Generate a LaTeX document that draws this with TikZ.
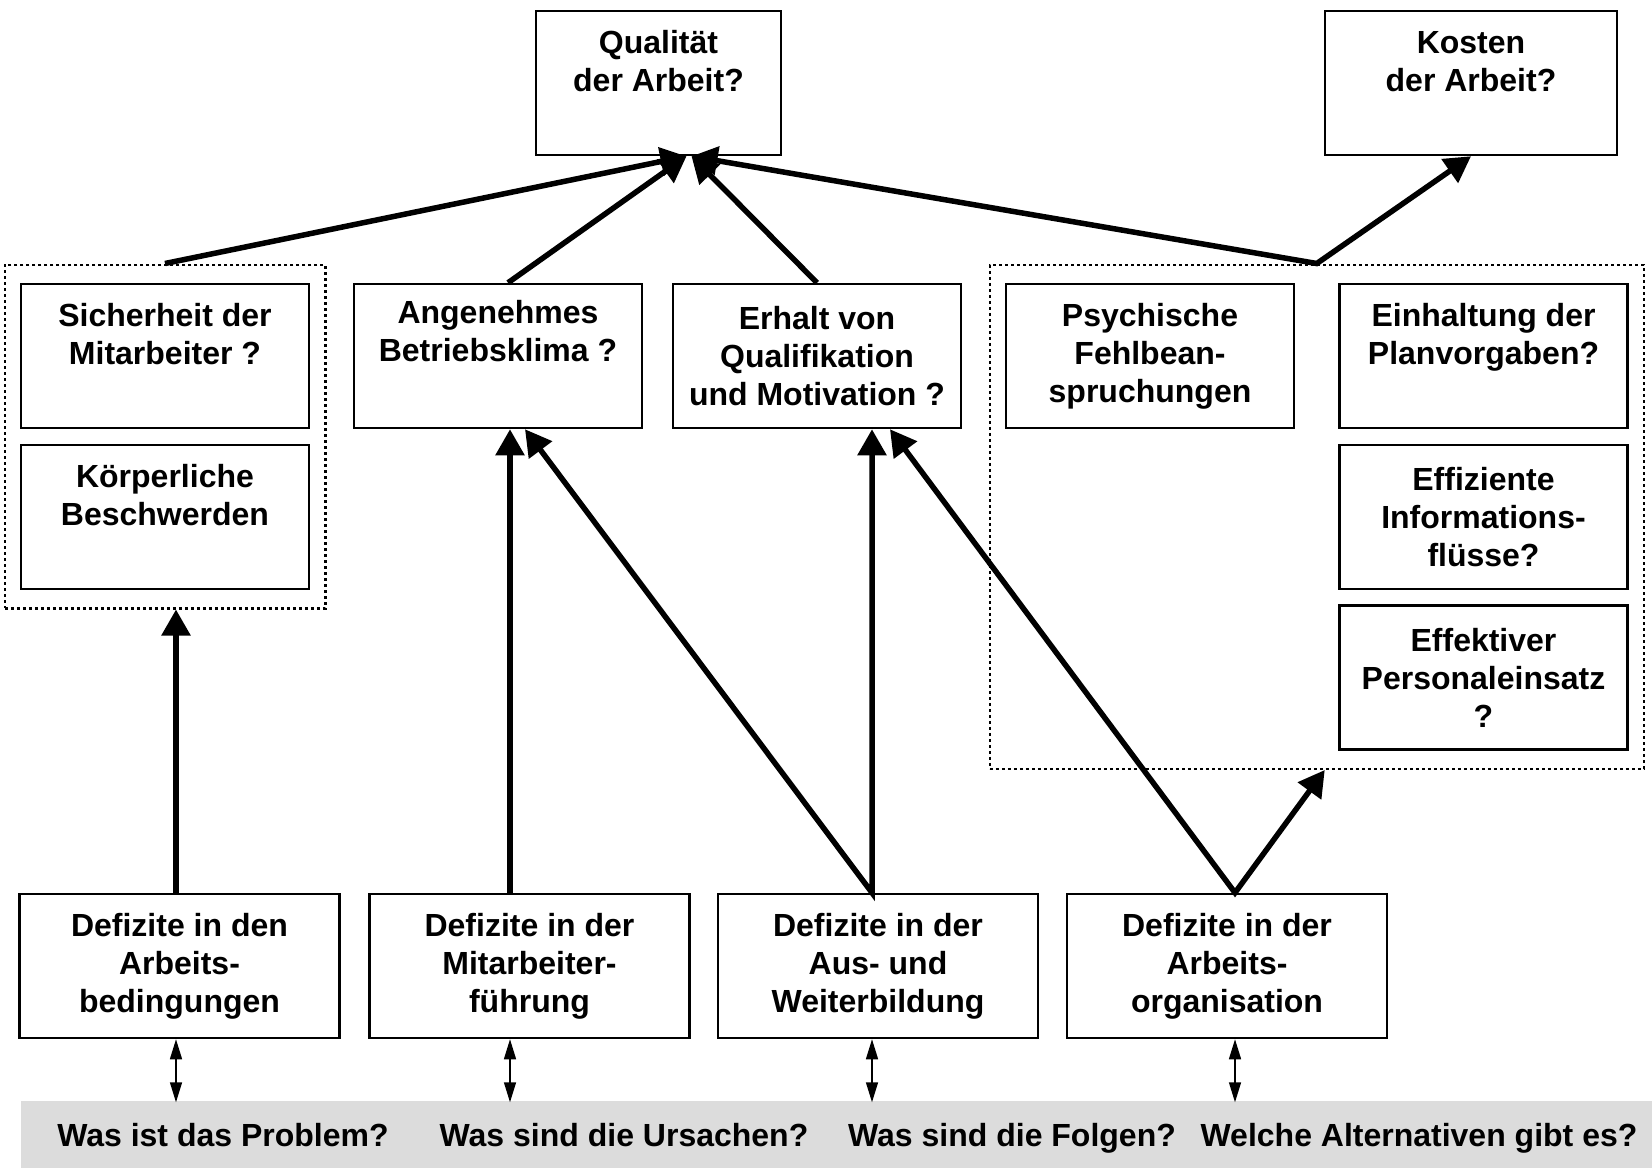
\documentclass[tikz,border=0pt]{standalone}
\usepackage{fontspec}
\setmainfont{Liberation Sans}
\usetikzlibrary{arrows.meta,calc,fit}
\definecolor{barGray}{HTML}{DCDCDC}

\tikzset{
  bigtip/.tip={Triangle[length=26pt,width=28pt]},
  smalltip/.tip={Triangle[length=20pt,width=12pt]}
}

\begin{document}
\begin{tikzpicture}[x=1pt,y=-1pt,font=\fontsize{32}{38}\selectfont\bfseries,
  box/.style={draw,line width=2.5pt,align=center,minimum height=144pt,inner sep=0pt},
  group/.style={draw,line width=2.5pt,dash pattern=on 3pt off 3pt,inner xsep=15pt,inner ysep=18pt},
  link/.style={line width=5.5pt,-bigtip},
  fork/.style={line width=5.5pt,bigtip-bigtip},
  ask/.style={line width=1.5pt,smalltip-smalltip}]
  \useasboundingbox (0,0) rectangle (1652,1168);

  \node[box,minimum width=245pt] (qual) at (658.5,83) {Qualität\\der Arbeit?\\[-6pt]\strut};
  \node[box,minimum width=292pt] (kost) at (1471,83) {Kosten\\der Arbeit?\\[-6pt]\strut};

  \foreach \x/\y/\name/\txt in {
    165/356/sich/{Sicherheit der\\Mitarbeiter ?\\[-6pt]\strut},
    165/517/koerp/{Körperliche\\Beschwerden\\[-6pt]\strut},
    498/356/klima/{Angenehmes\\Betriebsklima ?\\\strut},
    817/356/motiv/{Erhalt von\\Qualifikation\\und Motivation ?},
    1150/356/psych/{Psychische\\Fehlbean-\\spruchungen},
    1483.5/356/plan/{Einhaltung der\\Planvorgaben?\\[-6pt]\strut},
    1483.5/517/info/{Effiziente\\Informations-\\flüsse?},
    1483.5/677.5/pers/{Effektiver\\Personaleinsatz\\?}}
  {
    \node[box,minimum width=288pt] (\name) at (\x,\y) {\txt};
  }
  \node[group,fit=(sich)(koerp)] (grpl) {};
  \node[group,fit=(psych)(pers)] (grpr) {};

  \foreach \x/\name/\txt in {
    179.5/bed/{Defizite in den\\Arbeits-\\bedingungen},
    529.5/fuehr/{Defizite in der\\Mitarbeiter-\\führung},
    878/bild/{Defizite in der\\Aus- und\\Weiterbildung},
    1227/org/{Defizite in der\\Arbeits-\\organisation}}
  {
    \node[box,minimum width=320pt] (\name) at (\x,966) {\txt};
  }

  \node[fill=barGray,anchor=north west,minimum width=1631pt,minimum height=67pt,inner sep=0pt] (bar) at (21,1101) {};
  \foreach \x/\name/\txt in {
    223/w1/Was ist das Problem?,
    624/w2/Was sind die Ursachen?,
    1012/w3/Was sind die Folgen?,
    1419/w4/Welche Alternativen gibt es?}
  {
    \node[anchor=base] (\name) at (\x,1146) {\txt};
  }

  \draw[link] (grpl.north) -- ($(qual.south)+(28,0)$);
  \draw[link] ($(klima.north)+(10,0)$) -- ($(qual.south)+(28,0)$);
  \draw[link] (motiv.north) -- ($(qual.south)+(33,0)$);
  \draw[fork] ($(qual.south)+(33,0)$) -- (grpr.north) -- (kost.south);

  \draw[link] ($(bed.north)+(-3.5,0)$) -- ($(grpl.south)+(11,0)$);
  \draw[link] ($(fuehr.north)+(-19.5,0)$) -- ($(klima.south)+(12,0)$);
  \draw[fork] ($(klima.south)+(27,0)$) -- ($(bild.north)+(-6,0)$) -- ($(motiv.south)+(55,0)$);
  \draw[fork] ($(motiv.south)+(73,0)$) -- ($(org.north)+(8,0)$) -- ($(grpr.south)+(8,0)$);

  \foreach \name/\dx in {bed/-3.5,fuehr/-19.5,bild/-6,org/8}
    \draw[ask] ($(\name.south)+(\dx,0)$) -- ($(\name.south)+(\dx,63)$);
\end{tikzpicture}
\end{document}
